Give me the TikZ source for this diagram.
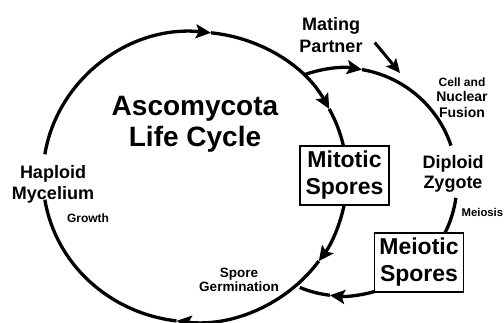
\documentclass[tikz,border=0pt]{standalone}
\usepackage{fontspec}
\setmainfont{Liberation Sans}
\usetikzlibrary{arrows.meta,positioning}

\begin{document}
\begin{tikzpicture}[x=1pt,y=-1pt,
    cyc/.style={line width=3.3pt},
    flow/.style={cyc,-{Stealth[length=15pt,width=14pt,inset=3pt]}},
    lbl/.style={align=center,inner sep=1pt},
    sporebox/.style={draw,line width=1.2pt,minimum width=89,minimum height=59,inner sep=0pt,align=center,
      font=\fontsize{23}{27}\selectfont\bfseries}]
    \useasboundingbox (0,0) rectangle (504,323);

    % Cycle centres
    \coordinate (big) at (195,177);
    \coordinate (small) at (343,182);

    % Labels
    \node[lbl,font=\fontsize{28}{31}\selectfont\bfseries] (title) at (195,124) {Ascomycota\\Life Cycle};
    \node[lbl,font=\fontsize{18}{21}\selectfont\bfseries] (haploid) at (53,184.5) {Haploid\\Mycelium};
    \node[lbl,font=\fontsize{12}{14}\selectfont\bfseries] (growth) at (88,218.5) {Growth};
    \node[lbl,font=\fontsize{13.5}{13.5}\selectfont\bfseries] (germ) at (239,280) {Spore\\Germination};
    \node[lbl,font=\fontsize{18}{22}\selectfont\bfseries] (mate) at (331,35.5) {Mating\\Partner};
    \node[lbl,font=\fontsize{14}{15.5}\selectfont\bfseries] (fusion) at (462,97.5) {{\fontsize{12}{14}\selectfont Cell and}\\Nuclear\\Fusion};
    \node[lbl,font=\fontsize{18}{20}\selectfont\bfseries] (zygote) at (453,174) {Diploid\\Zygote};
    \node[lbl,anchor=west,inner sep=0.5pt,font=\fontsize{11.3}{13}\selectfont\bfseries] (meiosis) at (461,212.5) {Meiosis};
    \node[sporebox] (mitotic) at (344.5,175.5) {Mitotic\\Spores};
    \node[sporebox] (meiotic) at (419,262.5) {Meiotic\\Spores};

    % Asexual cycle
    \draw[flow] ([shift={(-171:152 and 145)}]big) arc[start angle=-171,end angle=-84,x radius=152,y radius=145];
    \draw[flow] ([shift={(-84:152 and 145)}]big) arc[start angle=-84,end angle=-28,x radius=152,y radius=145];
    \draw[cyc] ([shift={(-28:152 and 145)}]big) arc[start angle=-28,end angle=-12.4,x radius=152,y radius=145];
    \draw[flow] ([shift={(11:152 and 145)}]big) arc[start angle=11,end angle=35.5,x radius=152,y radius=145];
    \draw[flow] ([shift={(35.5:152 and 145)}]big) arc[start angle=35.5,end angle=97,x radius=152,y radius=145];
    \draw[cyc] ([shift={(97:152 and 145)}]big) arc[start angle=97,end angle=171,x radius=152,y radius=145];

    % Sexual cycle
    \draw[flow] ([shift={(-109.6:114)}]small) arc[start angle=-109.6,end angle=-80.4,radius=114];
    \draw[cyc] ([shift={(-80.4:114)}]small) arc[start angle=-80.4,end angle=-18.6,radius=114];
    \draw[cyc] ([shift={(8:114)}]small) arc[start angle=8,end angle=26.6,radius=114];
    \draw[flow] ([shift={(74:114)}]small) arc[start angle=74,end angle=96.6,radius=114];
    \draw[cyc] ([shift={(96.6:114)}]small) arc[start angle=96.6,end angle=112.3,radius=114];

    % Mating partner joins
    \coordinate (fusein) at (400,73);
    \draw[line width=3pt,-{Stealth[length=14pt,width=13pt,inset=3pt]}] ([shift={(11,7)}]mate.east) -- (fusein);
\end{tikzpicture}
\end{document}
